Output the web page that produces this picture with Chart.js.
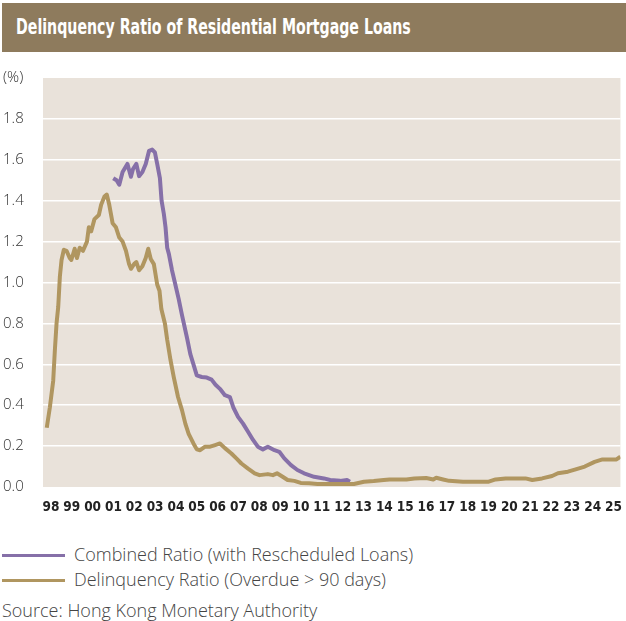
<!DOCTYPE html>
<html lang="en">
<head>
<meta charset="UTF-8">
<script src="https://cdn.jsdelivr.net/npm/chart.js@4.4.1/dist/chart.umd.min.js"></script>
<style>
    body { margin: 0; width: 626px; height: 621px; background: #fff; position: relative; overflow: hidden; font-family: "Open Sans", sans-serif; }
    .titulo { position: absolute; left: 2px; top: 3px; width: 624px; height: 49px; box-sizing: border-box; padding-left: 14px;
        background: #8E7B5D; color: #fff; font: bold 21px "DejaVu Sans Condensed", sans-serif; line-height: 49px; white-space: nowrap; }
    .titulo span { display: inline-block; transform: scaleX(0.75); transform-origin: left center; }
    #wrap { position: absolute; left: 0; top: 60px; width: 626px; height: 460px; }
    .leg { position: absolute; left: 2px; height: 22px; line-height: 22px; font-size: 18px; font-weight: 300; color: #444; white-space: nowrap; }
    .leg span { display: inline-block; width: 63px; height: 3px; vertical-align: middle; margin-right: 9px; position: relative; top: -1px; }
    .fonte { position: absolute; left: 2px; top: 599px; line-height: 22px; font-size: 18px; font-weight: 300; color: #444; white-space: nowrap; }
</style>
</head>
<body>
<div class="titulo"><span>Delinquency Ratio of Residential Mortgage Loans</span></div>
<div id="wrap"><canvas id="chart"></canvas></div>
<div class="leg" style="top:543px"><span style="background:#8670A8"></span>Combined Ratio (with Rescheduled Loans)</div>
<div class="leg" style="top:568px"><span style="background:#B09660"></span>Delinquency Ratio (Overdue &gt; 90 days)</div>
<div class="fonte">Source: Hong Kong Monetary Authority</div>
<script>
    // datas em anos decimais, valores em %
    var delinqDates = [1997.80, 1997.95, 1998.11, 1998.19, 1998.27, 1998.35, 1998.43, 1998.51, 1998.62, 1998.75, 1998.90, 1998.98,
        1999.14, 1999.25, 1999.38, 1999.54, 1999.73, 1999.82, 1999.93, 2000.09, 2000.30, 2000.41, 2000.57, 2000.68, 2000.80, 2000.96,
        2001.12, 2001.28, 2001.44, 2001.60, 2001.75, 2001.84, 2001.99, 2002.10, 2002.23, 2002.39, 2002.55, 2002.67, 2002.79, 2002.94,
        2003.10, 2003.21, 2003.30, 2003.47, 2003.58, 2003.74, 2003.89, 2004.10, 2004.29, 2004.45, 2004.61, 2004.84, 2005.00, 2005.16,
        2005.40, 2005.64, 2005.88, 2006.11, 2006.35, 2006.66, 2006.90, 2007.14, 2007.46, 2007.78, 2008.01, 2008.41, 2008.65, 2008.85,
        2009.12, 2009.36, 2009.68, 2009.99, 2010.39, 2010.79, 2011.40, 2012.54, 2013.02, 2013.49, 2013.97, 2014.25, 2015.06, 2015.44,
        2016.01, 2016.35, 2016.49, 2016.82, 2017.11, 2017.77, 2019.01, 2019.34, 2019.82, 2020.77, 2021.10, 2021.57, 2022.05, 2022.33,
        2022.81, 2023.14, 2023.62, 2024.09, 2024.47, 2025.14, 2025.33];
    var delinqValues = [0.29, 0.39, 0.52, 0.67, 0.80, 0.88, 1.03, 1.11, 1.16, 1.155, 1.12, 1.11,
        1.165, 1.12, 1.17, 1.155, 1.20, 1.27, 1.25, 1.31, 1.33, 1.38, 1.42, 1.43, 1.38, 1.29,
        1.27, 1.22, 1.20, 1.155, 1.09, 1.067, 1.09, 1.10, 1.06, 1.08, 1.12, 1.165, 1.115, 1.09,
        0.99, 0.96, 0.87, 0.80, 0.72, 0.62, 0.54, 0.44, 0.376, 0.31, 0.26, 0.213, 0.184, 0.18,
        0.197, 0.197, 0.205, 0.213, 0.19, 0.164, 0.14, 0.115, 0.09, 0.067, 0.058, 0.063, 0.058, 0.067,
        0.05, 0.034, 0.03, 0.02, 0.018, 0.015, 0.015, 0.015, 0.026, 0.029, 0.034, 0.037, 0.037, 0.042,
        0.044, 0.037, 0.045, 0.037, 0.03, 0.026, 0.026, 0.037, 0.042, 0.042, 0.034, 0.042, 0.054, 0.067,
        0.075, 0.085, 0.10, 0.123, 0.135, 0.135, 0.148];

    var combinedDates = [2000.99, 2001.15, 2001.28, 2001.44, 2001.67, 2001.84, 2001.94, 2002.10, 2002.23, 2002.39, 2002.55, 2002.71,
        2002.86, 2002.99, 2003.10, 2003.23, 2003.31, 2003.42, 2003.50, 2003.58, 2003.66, 2003.81, 2003.97, 2004.13, 2004.29, 2004.53,
        2004.69, 2004.84, 2005.00, 2005.24, 2005.48, 2005.71, 2005.90, 2006.11, 2006.35, 2006.59, 2006.75, 2006.98, 2007.22, 2007.46,
        2007.70, 2007.93, 2008.17, 2008.41, 2008.73, 2008.96, 2009.20, 2009.52, 2009.83, 2010.15, 2010.63, 2011.10, 2011.40, 2011.88,
        2012.21, 2012.35];
    var combinedValues = [1.51, 1.50, 1.478, 1.54, 1.58, 1.517, 1.555, 1.58, 1.52, 1.54, 1.58, 1.644,
        1.65, 1.636, 1.58, 1.51, 1.40, 1.335, 1.27, 1.17, 1.14, 1.06, 0.99, 0.92, 0.84, 0.73,
        0.65, 0.60, 0.546, 0.538, 0.535, 0.525, 0.50, 0.48, 0.449, 0.44, 0.39, 0.343, 0.31, 0.27,
        0.23, 0.197, 0.184, 0.197, 0.18, 0.172, 0.14, 0.107, 0.083, 0.067, 0.05, 0.042, 0.034, 0.03,
        0.034, 0.026];

    var yearTicks = [1998, 1999, 2000, 2001, 2002, 2003, 2004, 2005, 2006, 2007, 2008, 2009, 2010, 2011,
        2012, 2013, 2014, 2015, 2016, 2017, 2018, 2019, 2020, 2021, 2022, 2023, 2024, 2025];
    var yearLabels = ["98", "99", "00", "01", "02", "03", "04", "05", "06", "07", "08", "09", "10", "11",
        "12", "13", "14", "15", "16", "17", "18", "19", "20", "21", "22", "23", "24", "25"];

    function pares(datas, valores) {
        return datas.map(function (d, i) { return { x: d, y: valores[i] }; });
    }

    // fundo bege da area do grafico
    var fundo = {
        id: "fundo",
        beforeDraw: function (c) {
            var a = c.chartArea, ctx = c.ctx;
            ctx.save();
            ctx.fillStyle = "#E9E2DA";
            ctx.fillRect(a.left, a.top, a.right - a.left, a.bottom - a.top);
            ctx.restore();
        }
    };

    var ctx = chart.getContext("2d");

    new Chart(ctx, {
        type: "line",
        data: {
            datasets: [
                {
                    label: "Delinquency Ratio (Overdue > 90 days)",
                    data: pares(delinqDates, delinqValues),
                    borderColor: "#B09660",
                    borderWidth: 4,
                    pointRadius: 0,
                    borderJoinStyle: "round",
                    tension: 0
                },
                {
                    label: "Combined Ratio (with Rescheduled Loans)",
                    data: pares(combinedDates, combinedValues),
                    borderColor: "#8670A8",
                    borderWidth: 4,
                    pointRadius: 0,
                    borderJoinStyle: "round",
                    tension: 0
                }
            ]
        },
        options: {
            responsive: true,
            maintainAspectRatio: false,
            animation: false,
            layout: { padding: { left: 3, top: 18, right: 0, bottom: 0 } },
            plugins: { legend: { display: false }, tooltip: { enabled: false } },
            scales: {
                x: {
                    type: "linear",
                    min: 1997.62,
                    max: 2025.33,
                    afterBuildTicks: function (s) {
                        s.ticks = yearTicks.map(function (v) { return { value: v }; });
                    },
                    afterFit: function (s) { s.height = 33; },
                    grid: { display: false },
                    border: { display: false },
                    ticks: {
                        autoSkip: false,
                        maxRotation: 0,
                        padding: 4,
                        color: "#222",
                        font: { family: "'DejaVu Sans Condensed', sans-serif", size: 13.5, weight: "bold" },
                        callback: function (v) { return yearLabels[yearTicks.indexOf(v)]; }
                    }
                },
                y: {
                    min: 0,
                    max: 2,
                    afterFit: function (s) { s.width = 40; },
                    border: { display: false },
                    grid: {
                        drawTicks: false,
                        lineWidth: 1.5,
                        color: function (c) {
                            var v = c.tick ? c.tick.value : 0;
                            return (v <= 0.001 || v >= 1.999) ? "rgba(0,0,0,0)" : "#FFFFFF";
                        }
                    },
                    ticks: {
                        stepSize: 0.2,
                        crossAlign: "far",
                        padding: 0,
                        color: "#333",
                        font: { family: "'Open Sans', sans-serif", size: 15, weight: "300" },
                        callback: function (v) { return v >= 1.999 ? "(%)" : v.toFixed(1); }
                    }
                }
            }
        },
        plugins: [fundo]
    });
</script>
</body>
</html>
